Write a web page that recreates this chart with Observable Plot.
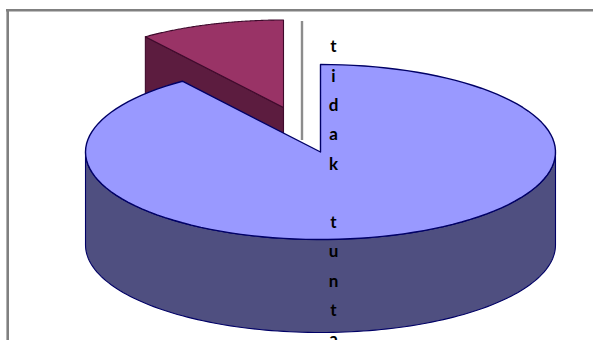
<!DOCTYPE html>
<html>
<head>
<meta charset="utf-8">
<script src="https://cdn.jsdelivr.net/npm/d3@7"></script>
<script src="https://cdn.jsdelivr.net/npm/@observablehq/plot@0.6"></script>
<style>
  html, body { margin: 0; padding: 0; background: #fff; overflow: hidden; }
  svg { display: block; }
</style>
</head>
<body>
<div id="chart"></div>
<script>
// Shares of the pie; only the big slice carries a label
const labels = ["tidak tunta"];
const shares = [90, 10];

// Slice colours: top face, side wall, outline
const topColors = ["#9999ff", "#993366"];
const wallColors = ["#4f4f80", "#5c1c3f"];
const edgeColors = ["#000066", "#3f0a2c"];

const W = 593, H = 340;
// Pixels per pie radius, horizontally and vertically (tilted disc)
const rx = 235, ry = 87.5;
const cx = 320, cy = 151.5;
const depth = 93 / ry;              // disc thickness, in vertical radii
const explode = {x: -37 / rx, y: 44.5 / ry}; // offset of the pulled-out slice

// Unit-circle coordinates: x right, y up
const x = {domain: [-cx / rx, (W - cx) / rx], range: [0, W]};
const y = {domain: [(cy - H) / ry, cy / ry], range: [H, 0]};

// Slices run clockwise from twelve o'clock
const turn = a => a / d3.sum(shares) * 2 * Math.PI;
const onRim = a => ({x: Math.sin(a), y: Math.cos(a)});
const rim = (a0, a1) => d3.range(0, 121).map(i => onRim(a0 + (a1 - a0) * i / 120));
const shift = (pts, dx, dy) => pts.map(p => ({x: p.x + dx, y: p.y + dy}));

const bigEnd = turn(shares[0]);
const smallEnd = bigEnd + turn(shares[1]);

// Big slice
const bigTop = [{x: 0, y: 0}, ...rim(0, bigEnd), {x: 0, y: 0}];
const wallFrom = Math.PI / 2, wallTo = 3 * Math.PI / 2;
const frontRim = rim(wallFrom, wallTo);
const bigWall = [...frontRim, ...shift(frontRim, 0, -depth).reverse(), frontRim[0]];

// Small slice, pulled away from the centre
const apex = {x: explode.x, y: explode.y};
const smallRim = shift(rim(bigEnd, smallEnd), apex.x, apex.y);
const smallTop = [apex, ...smallRim, apex];
const cutEdge = [smallRim[0], apex];
const smallWall = [...cutEdge, ...shift(cutEdge, 0, -depth).reverse(), cutEdge[0]];

// Grey frame, open on the right and at the bottom
const frameX = (7.2 - cx) / rx, frameY = (cy - 9.8) / ry;
const axisColor = "#808080";
// Thin divider between the slices
const dividerX = (301.5 - cx) / rx;
const divider = [{y1: (cy - 21) / ry, y2: (cy - 140) / ry}];

const polygon = (pts, fill, stroke, strokeWidth = 1.1) =>
  Plot.line(pts, {x: "x", y: "y", fill, stroke, strokeWidth, strokeLinejoin: "round", curve: "linear"});

// The label is set one letter per line
const labelText = labels[0].split("").join("\n");

const chart = Plot.plot({
  width: W,
  height: H,
  margin: 0,
  x: {...x, axis: null},
  y: {...y, axis: null},
  marks: [
    Plot.ruleY([frameY], {x1: frameX - 1.2 / rx, x2: x.domain[1], stroke: axisColor, strokeWidth: 2.6}),
    Plot.ruleX([frameX], {y1: frameY, y2: y.domain[0], stroke: axisColor, strokeWidth: 2.6}),
    Plot.ruleX(divider, {x: () => dividerX, y1: "y1", y2: "y2", stroke: "#8c8c8c", strokeWidth: 2.4}),
    polygon(smallWall, wallColors[1], edgeColors[1]),
    polygon(smallTop, topColors[1], edgeColors[1]),
    polygon(bigWall, wallColors[0], edgeColors[0]),
    polygon(bigTop, topColors[0], edgeColors[0], 1.4),
    Plot.text([labelText], {
      x: () => (333 - cx) / rx,
      y: () => (cy - 31) / ry,
      text: d => d,
      fontFamily: "Lato, 'Open Sans', sans-serif",
      fontWeight: 700,
      fontSize: 17,
      lineHeight: 29.3 / 17,
      lineAnchor: "top",
      textAnchor: "middle",
      fill: "#000"
    })
  ]
});
document.getElementById("chart").append(chart);
</script>
</body>
</html>
